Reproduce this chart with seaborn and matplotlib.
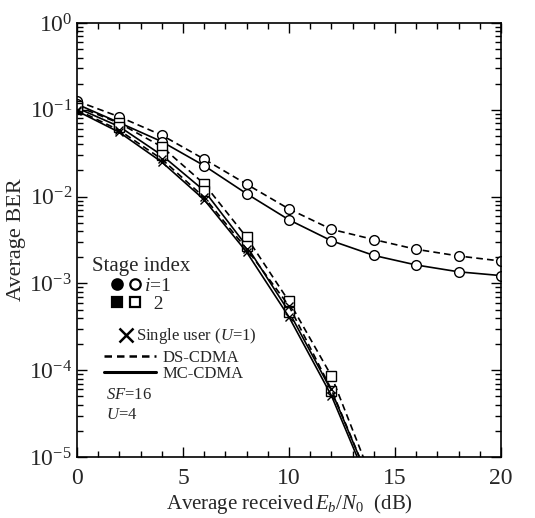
import numpy as np
import pandas as pd
import seaborn as sns
import matplotlib.pyplot as plt
from matplotlib.lines import Line2D
from matplotlib.legend_handler import HandlerTuple
from matplotlib.ticker import MultipleLocator, LogLocator, NullFormatter

sns.set_theme(style='ticks')
plt.rcParams['font.family'] = ['Liberation Serif', 'DejaVu Serif']
plt.rcParams['mathtext.fontset'] = 'custom'
plt.rcParams['mathtext.rm'] = 'Liberation Serif'
plt.rcParams['mathtext.it'] = 'Liberation Serif:italic'

# Eb/N0 (dB)
snr_full = [0, 2, 4, 6, 8, 10, 12, 14, 16, 18, 20]
snr_steep = [0, 2, 4, 6, 8, 10, 12, 14]

# stage i=1
ds_stage1 = [0.126, 0.083, 0.051, 0.027, 0.0139, 0.0072, 0.0042, 0.0032, 0.00247, 0.00207, 0.00181]
mc_stage1 = [0.116, 0.071, 0.043, 0.0227, 0.0108, 0.0054, 0.0031, 0.0021, 0.00163, 0.00136, 0.00123]
# stage i=2
ds_stage2 = [0.110, 0.070, 0.0375, 0.0140, 0.0034, 0.00062, 0.000086, 0.0000049]
mc_stage2 = [0.105, 0.064, 0.030, 0.0117, 0.0027, 0.00047, 0.000058, 0.0000040]
# single user (U=1)
su_ds = [0.100, 0.058, 0.027, 0.0098, 0.0025, 0.00055, 0.000060, 0.0000040]
su_mc = [0.097, 0.055, 0.025, 0.0092, 0.0023, 0.00041, 0.000051, 0.0000035]

fig = plt.figure(figsize=(5.35, 5.18), dpi=100)
ax = fig.add_axes([77/535, 1-457/518, 424/535, 434/518])

dash = (4, 2.5)
series = [
    (snr_full, ds_stage1, 'o', True),
    (snr_full, mc_stage1, 'o', False),
    (snr_steep, ds_stage2, 's', True),
    (snr_steep, mc_stage2, 's', False),
    (snr_steep, su_ds, 'x', True),
    (snr_steep, su_mc, 'x', False),
]
for x, y, m, dashed in series:
    df = pd.DataFrame({'snr': x, 'ber': y})
    kw = dict(color='black', linewidth=1.2, marker=m, markersize=7,
              markerfacecolor='white', markeredgecolor='black', markeredgewidth=1.0)
    if m == 'x':
        kw['markersize'] = 6
    sns.lineplot(data=df, x='snr', y='ber', ax=ax, **kw)
    if dashed:
        ax.lines[-1].set_dashes(dash)

ax.set_yscale('log')
ax.set_xlim(0, 20)
ax.set_ylim(1e-5, 1)
ax.xaxis.set_major_locator(MultipleLocator(5))
ax.xaxis.set_minor_locator(MultipleLocator(1))
ax.yaxis.set_major_locator(LogLocator(base=10, numticks=10))
ax.yaxis.set_minor_locator(LogLocator(base=10, subs=np.arange(2, 10), numticks=10))
ax.yaxis.set_minor_formatter(NullFormatter())
ax.tick_params(which='both', direction='in', top=True, right=True, labelsize=17, color='black')
ax.tick_params(which='major', length=7, width=1)
ax.tick_params(which='minor', length=4, width=1)
ax.tick_params(axis='x', pad=8)
for s in ax.spines.values():
    s.set_linewidth(1.2)
    s.set_color('black')

ax.set_xlabel(r'Average received$\,E_b/N_0$  (dB)', fontsize=15, labelpad=2)
ax.set_ylabel('Average BER', fontsize=16, labelpad=2)

# legends
ax.text(0.035, 0.438, 'Stage index', transform=ax.transAxes, fontsize=15, va='center')

mk = dict(color='black', linestyle='none', markersize=7.5, markeredgewidth=1.6)
fc = Line2D([], [], marker='o', markerfacecolor='black', **mk)
oc = Line2D([], [], marker='o', markerfacecolor='white', **mk)
fs = Line2D([], [], marker='s', markerfacecolor='black', **mk)
os_ = Line2D([], [], marker='s', markerfacecolor='white', **mk)
leg1 = ax.legend([(fc, oc), (fs, os_)], ['$i$=1', '  2'],
                 handler_map={tuple: HandlerTuple(ndivide=None, pad=0.45)},
                 fontsize=14, loc='center left', bbox_to_anchor=(0.083, 0.373),
                 frameon=False, handlelength=1.4, handletextpad=0.23,
                 labelspacing=0.0, borderpad=0, borderaxespad=0)
ax.add_artist(leg1)

xh = Line2D([], [], marker='x', color='black', linestyle='none', markersize=10, markeredgewidth=1.8)
leg2 = ax.legend([xh], ['Single user ($U$=1)'], fontsize=12, loc='center left',
                 bbox_to_anchor=(0.101, 0.278), frameon=False, handlelength=0.8,
                 handletextpad=0.15, borderpad=0, borderaxespad=0)
ax.add_artist(leg2)

dl = Line2D([], [], color='black', linewidth=1.8, dashes=(3, 2))
sl = Line2D([], [], color='black', linewidth=2.2)
ax.legend([dl, sl], ['DS-CDMA', 'MC-CDMA'], fontsize=12, loc='center left',
          bbox_to_anchor=(0.064, 0.209), frameon=False, handlelength=3.1,
          handletextpad=0.42, labelspacing=0.0, borderpad=0, borderaxespad=0)

ax.text(0.068, 0.142, '$SF$=16', transform=ax.transAxes, fontsize=12, va='center')
ax.text(0.068, 0.096, '$U$=4', transform=ax.transAxes, fontsize=12, va='center')

fig.savefig('out.png', dpi=100)
